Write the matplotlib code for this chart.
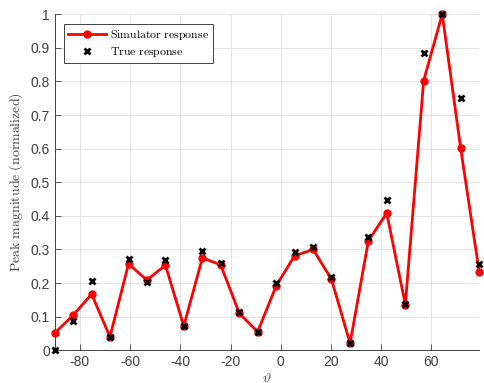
import numpy as np
import matplotlib
matplotlib.use("Agg")
import matplotlib.pyplot as plt

plt.rcParams['font.family'] = ['Liberation Sans', 'DejaVu Sans']
plt.rcParams['mathtext.fontset'] = 'cm'
plt.rcParams['axes.unicode_minus'] = False

# angle grid (deg)
theta = [-90, -82.7, -75.3, -68.0, -60.6, -53.3, -45.9, -38.6, -31.2, -23.9,
         -16.5, -9.2, -1.8, 5.5, 12.9, 20.2, 27.6, 34.9, 42.2, 49.6,
         56.9, 64.3, 71.6, 79.0]
sim_resp = [0.051, 0.104, 0.167, 0.040, 0.257, 0.209, 0.253, 0.072, 0.275, 0.254,
            0.110, 0.055, 0.192, 0.281, 0.300, 0.211, 0.021, 0.326, 0.408, 0.136,
            0.802, 1.000, 0.603, 0.234]
true_resp = [0.000, 0.086, 0.206, 0.040, 0.273, 0.204, 0.269, 0.073, 0.295, 0.260,
             0.114, 0.055, 0.199, 0.293, 0.306, 0.217, 0.021, 0.338, 0.448, 0.137,
             0.884, 1.000, 0.752, 0.257]

xticks = [-80, -60, -40, -20, 0, 20, 40, 60]
yticks = [0, 0.1, 0.2, 0.3, 0.4, 0.5, 0.6, 0.7, 0.8, 0.9, 1]
yticklabels = ['0', '0.1', '0.2', '0.3', '0.4', '0.5', '0.6', '0.7', '0.8', '0.9', '1']

fig = plt.figure(figsize=(4.84, 3.83), dpi=100)
ax = fig.add_axes([0.113, 0.0854, 0.877, 0.8776])

ax.plot(theta, sim_resp, '-o', color='red', lw=2, ms=5,
        label=r'$\mathrm{Simulator\ response}$', zorder=3, clip_on=False)
ax.plot(theta, true_resp, 'x', color='black', ms=5, mew=2,
        label=r'$\mathrm{True\ response}$', zorder=4, clip_on=False)

ax.set_xlim(theta[0], theta[-1])
ax.set_ylim(0, 1)
ax.set_xticks(xticks)
ax.set_yticks(yticks)
ax.set_yticklabels(yticklabels)
ax.tick_params(direction='in', length=4, labelsize=10, colors='#404040', width=0.6)
ax.grid(True, color='#e3e3e3', lw=0.7)
ax.set_axisbelow(True)
for s in ['top', 'right']:
    ax.spines[s].set_visible(False)
for s in ['left', 'bottom']:
    ax.spines[s].set_color('#404040')
    ax.spines[s].set_linewidth(0.7)

ax.set_ylabel(r'$\mathrm{Peak\ magnitude\ (normalized)}$', fontsize=10, color='#404040')
ax.set_xlabel(r'$\vartheta$', fontsize=10, color='#404040', labelpad=1)

leg = ax.legend(loc='upper left', bbox_to_anchor=(0.022, 0.97), fontsize=8.5,
                fancybox=False, edgecolor='#404040', framealpha=1,
                handlelength=3.2, handletextpad=0.35, borderpad=0.35,
                labelspacing=0.25, borderaxespad=0)
leg.get_frame().set_linewidth(0.7)

fig.savefig('out.png', dpi=100)
